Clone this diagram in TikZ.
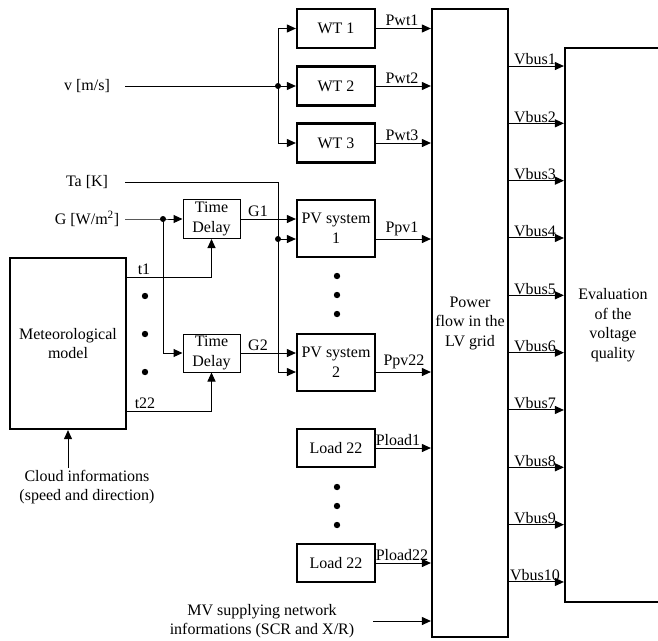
\documentclass[tikz,border=0pt]{standalone}
\usepackage{fontspec}
\setmainfont{Liberation Serif}
\usetikzlibrary{arrows.meta}
\begin{document}
\begin{tikzpicture}[x=1pt,y=-1pt,
  every node/.style={font=\fontsize{16}{19.5}\selectfont},
  thickbox/.style={draw, line width=2.2pt, align=center, inner sep=0pt},
  thinbox/.style={draw, line width=1pt, align=center, inner sep=0pt},
  wire/.style={line width=1pt},
  arr/.style={wire, -{Triangle[length=9pt,width=8pt]}},
  lbl/.style={inner sep=2.5pt, anchor=south},
  vlbl/.style={inner sep=0.8pt, anchor=south},
  intxt/.style={inner sep=0pt, minimum width=76pt, align=center}]
\useasboundingbox (0,0) rectangle (658,640);

% blocks
\node[thickbox, minimum width=78pt, minimum height=39pt] (wt1) at (336,28.5) {WT 1};
\node[thickbox, minimum width=78pt, minimum height=39pt] (wt2) at (336,86) {WT 2};
\node[thickbox, minimum width=78pt, minimum height=39pt] (wt3) at (336,143) {WT 3};
\node[thickbox, minimum width=78pt, minimum height=57pt] (pv1) at (336,228.5) {PV system\\1};
\node[thickbox, minimum width=78pt, minimum height=57pt] (pv2) at (336,362.5) {PV system\\2};
\node[thickbox, minimum width=78pt, minimum height=38pt] (ld1) at (336,448) {Load 22};
\node[thickbox, minimum width=78pt, minimum height=38pt] (ld2) at (336,563) {Load 22};
\node[thickbox, minimum width=76pt, minimum height=628pt] (pf) at (470,323) {Power\\flow in the\\LV grid};
\node[thickbox, minimum width=96pt, minimum height=554pt] (ev) at (613,325) {Evaluation\\of the\\voltage\\quality};
\node[thinbox, minimum width=57pt, minimum height=39pt] (td1) at (211.5,219) {Time\\Delay};
\node[thinbox, minimum width=57pt, minimum height=38pt] (td2) at (211.5,353) {Time\\Delay};
\node[thickbox, minimum width=116pt, minimum height=171pt] (met) at (68,343.5) {Meteorological\\model};

% input texts
\node[intxt] (v) at (87,86) {v [m/s]};
\node[intxt] (ta) at (87,182) {Ta [K]};
\node[intxt] (g) at (87,219) {G [W/m\textsuperscript{2}]};
\node[align=center, inner sep=0pt] (cloud) at (87,487) {Cloud informations\\(speed and direction)};
\node[align=center, inner sep=0pt] (mv) at (262,621) {MV supplying network\\informations (SCR and X/R)};

% wind
\coordinate (vj) at (278,86);
\draw[wire] (v.east) -- (vj);
\draw[arr] (vj) |- (wt1.west);
\draw[arr] (vj) -- (wt2.west);
\draw[arr] (vj) |- (wt3.west);
\fill (vj) circle (3pt);
\foreach \n in {wt1,wt2,wt3} \draw[arr] (\n.east) -- (\n.east -| pf.west);
\node[lbl] (lwt1) at (402,28.5) {Pwt1};
\node[lbl] (lwt2) at (402,86) {Pwt2};
\node[lbl] (lwt3) at (402,143) {Pwt3};

% temperature
\coordinate (taj) at (278,239);
\coordinate (tab) at (278,372);
\draw[wire] (ta.east) -| (tab);
\draw[arr] (tab) -- (tab -| pv2.west);
\draw[arr] (taj) -- (taj -| pv1.west);
\fill (taj) circle (3pt);

% irradiance
\coordinate (gj) at (163,219);
\draw[arr] (g.east) -- (gj) -- (td1.west);
\draw[arr] (gj) |- (td2.west);
\fill (gj) circle (3pt);
\draw[arr] (td1.east) -- (td1.east -| pv1.west);
\draw[arr] (td2.east) -- (td2.east -| pv2.west);
\node[lbl] (lg1) at (258,219) {G1};
\node[lbl] (lg2) at (258,353) {G2};

% meteorological model outputs
\coordinate (t1s) at (126,277);
\coordinate (t22s) at (126,411);
\draw[arr] (t1s) -| (td1.south);
\draw[arr] (t22s) -| (td2.south);
\node[lbl] (lt1) at (144,277) {t1};
\node[lbl] (lt22) at (145,411) {t22};
\foreach \y in {296,334,372} \fill (145,\y) circle (3.2pt);

% cloud
\coordinate (cls) at (68,468);
\draw[arr] (cls) -- (met.south);

% PV and load outputs
\coordinate (pv1o) at (pv1.east |- taj);
\coordinate (pv2o) at (pv2.east |- tab);
\draw[arr] (pv1o) -- (pv1o -| pf.west);
\draw[arr] (pv2o) -- (pv2o -| pf.west);
\draw[arr] (ld1.east) -- (ld1.east -| pf.west);
\draw[arr] (ld2.east) -- (ld2.east -| pf.west);
\node[lbl] (lpv1) at (402,239) {Ppv1};
\node[lbl] (lpv2) at (404,372) {Ppv22};
\node[lbl] (lld1) at (398,448) {Pload1};
\node[lbl] (lld2) at (402,563) {Pload22};
\foreach \y in {276,295,314,487,506,525} \fill (337,\y) circle (3.2pt);

% MV
\coordinate (mvs) at (373,621);
\draw[arr] (mvs) -- (mvs -| pf.west);

% bus voltages
\foreach \i in {1,...,10}{
  \pgfmathsetmacro{\yy}{66+(\i-1)*57.33}
  \coordinate (vb\i) at (508,\yy);
  \draw[arr] (vb\i) -- (vb\i -| ev.west);
  \node[vlbl] (lvb\i) at (535,\yy) {Vbus\i};
}
\end{tikzpicture}
\end{document}
